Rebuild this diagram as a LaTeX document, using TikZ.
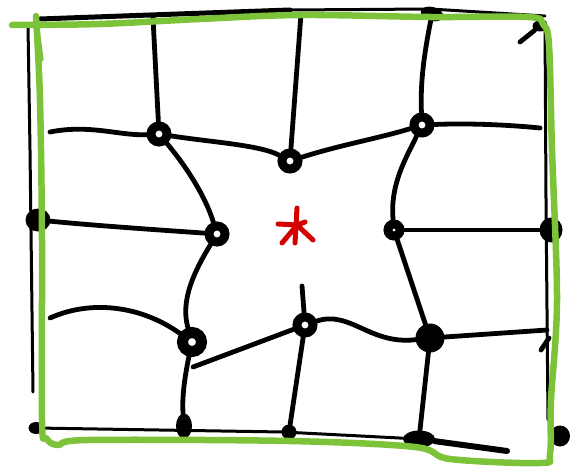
\documentclass[tikz,border=0pt]{standalone}
\definecolor{sketchgreen}{RGB}{125,195,58}
\definecolor{sketchred}{RGB}{212,0,0}
\usetikzlibrary{shapes.geometric}
\tikzset{
  ln/.style={line width=4.8pt, line cap=round, line join=round},
  thin ln/.style={line width=3pt, line cap=round, line join=round},
  knot/.style={circle, draw=black, line width=9pt, minimum size=16pt, inner sep=0pt},
  bigknot/.style={circle, draw=black, line width=11pt, minimum size=19pt, inner sep=0pt},
  blob/.style={ellipse, fill=black, minimum width=16pt, minimum height=16pt, inner sep=0pt},
  grn/.style={draw=sketchgreen, line width=6.5pt, line cap=round, line join=round},
  ast/.style={draw=sketchred, line width=5pt, line cap=round}
}
\begin{document}
\begin{tikzpicture}[x=1pt,y=-1pt]
\useasboundingbox (0,0) rectangle (572,473);
% nodes
\node[knot] (A) at (159,134) {};
\node[knot] (B) at (290,161) {};
\node[knot] (C) at (422,125) {};
\node[blob, minimum width=25pt, minimum height=23pt] (D) at (38,220) {};
\node[knot] (E) at (217,234) {};
\node[knot, minimum size=12pt] (F) at (394,230) {};
\node[blob, minimum width=23pt, minimum height=25pt] (G) at (551,230) {};
\node[bigknot] (H) at (192,342) {};
\node[knot] (I) at (305,325) {};
\node[blob, minimum width=29pt, minimum height=29pt] (J) at (430,338) {};
\node[blob, minimum width=16pt, minimum height=25pt] (K) at (184,426) {};
\node[blob, minimum width=15pt, minimum height=15pt] (L) at (289,432) {};
\node[blob, minimum width=32pt, minimum height=17pt] (M) at (419,439) {};
\node[blob, minimum width=20pt, minimum height=21pt] (N) at (560,436) {};
\node[blob, minimum width=23pt, minimum height=14pt, rotate=-15] (T) at (432,14) {};
\node[blob, minimum width=15pt, minimum height=11pt] (TR) at (540,26) {};
\node[blob, minimum width=15pt, minimum height=12pt] (BL) at (36,428) {};
% free ends
\coordinate (a1) at (153,18);
\coordinate (b1) at (301,14);
\coordinate (aL) at (50,132);
\coordinate (cR) at (540,128);
\coordinate (hL) at (50,318);
\coordinate (h2) at (193,367);
\coordinate (iT) at (302,286);
\coordinate (jR) at (547,330);
\coordinate (mR) at (507,451);
% black frame
\draw[ln, line width=5pt] (40,19) -- (150,15) -- (290,10);
\draw[thin ln] (290,10) -- (430,9) -- (545,16);
\draw[thin ln] (28,26) -- (30,150) -- (33,392);
\draw[thin ln] (545,22) -- (546,200) -- (548,420);
\draw[thin ln] (BL) -- (283,432) -- (M);
\draw[ln, line width=6pt] (M) -- (mR);
\draw[ln] (TR) -- (520,42);
\draw[ln] (549,338) -- (541,350);
% connectors
\draw[ln] (a1) -- (A);
\draw[ln] (aL) .. controls (90,124) and (120,136) .. (A);
\draw[ln] (A) .. controls (210,142) and (260,145) .. (B);
\draw[ln] (B) .. controls (340,145) and (380,138) .. (C);
\draw[ln] (C) .. controls (470,123) and (510,125) .. (cR);
\draw[ln] (b1) -- (B);
\draw[ln] (T) .. controls (425,50) and (420,80) .. (C);
\draw[ln] (A) .. controls (185,165) and (205,195) .. (E);
\draw[ln] (C) .. controls (405,160) and (390,185) .. (F);
\draw[ln] (D) .. controls (100,226) and (160,230) .. (E);
\draw[ln] (F) -- (G);
\draw[ln] (E) .. controls (195,270) and (180,300) .. (H);
\draw[ln] (hL) .. controls (90,300) and (140,305) .. (H);
\draw[ln] (h2) -- (I);
\draw[ln] (I) .. controls (350,310) and (370,345) .. (J);
\draw[ln] (J) -- (jR);
\draw[ln] (F) -- (J);
\draw[ln] (iT) -- (I);
\draw[ln] (I) -- (L);
\draw[ln] (H) .. controls (184,380) and (182,400) .. (K);
\draw[ln] (J) -- (M);
% green frame
\draw[grn] plot[smooth, tension=0.55] coordinates {(36,16) (40,100) (42,240) (42,420) (46,438) (58,445) (88,440) (290,441) (415,447) (450,459) (540,463) (550,454) (551,400) (557,300) (552,150) (549,45) (543,24) (528,17) (430,17) (300,15) (200,19) (100,24) (12,25)};
\draw[sketchgreen, line width=3.5pt, line cap=round] (38,30) -- (42,60);
% red asterisk
\draw[ast] (297,208) -- (295,243);
\draw[ast] (278,224) -- (297,225);
\draw[ast] (297,225) -- (282,243);
\draw[ast] (297,225) -- (313,240);
\draw[ast] (297,225) -- (305,222);
\end{tikzpicture}
\end{document}
